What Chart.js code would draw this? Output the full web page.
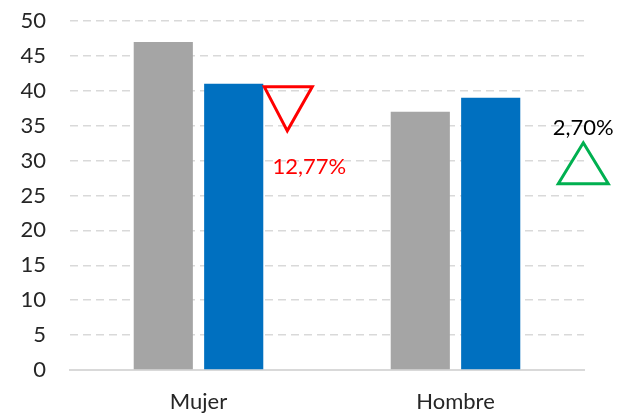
<!DOCTYPE html>
<html>
<head>
<meta charset="utf-8">
<script src="https://cdn.jsdelivr.net/npm/chart.js"></script>
<style>
  html, body { margin: 0; padding: 0; background: #fff; }
  #wrap { width: 617px; height: 414px; }
</style>
</head>
<body>
<div id="wrap"><canvas id="chart" width="617" height="414"></canvas></div>
<script>
// Data
const categories = ['Mujer', 'Hombre'];
const previousValues = [47, 37];
const currentValues = [41, 39];
const changeLabels = ['12,77%', '2,70%'];
const changeDirections = ['down', 'up'];
const yTicks = [0, 5, 10, 15, 20, 25, 30, 35, 40, 45, 50];

const FONT = 'Lato, "Open Sans", sans-serif';

// Draws the change triangles and percentages next to the blue bars
const changeMarkers = {
    id: 'changeMarkers',
    afterDraw(chart) {
        const ctx = chart.ctx;
        const meta = chart.getDatasetMeta(1);
        const yScale = chart.scales.y;
        ctx.save();
        ctx.lineWidth = 3;
        ctx.lineJoin = 'miter';
        ctx.font = '22px ' + FONT;
        ctx.textAlign = 'center';
        ctx.textBaseline = 'middle';
        meta.data.forEach((bar, i) => {
            const right = bar.x + bar.width / 2;
            if (changeDirections[i] === 'down') {
                const top = yScale.getPixelForValue(currentValues[i]) + 3;
                ctx.strokeStyle = '#FF0000';
                ctx.beginPath();
                ctx.moveTo(right + 1, top);
                ctx.lineTo(right + 49, top);
                ctx.lineTo(right + 24, top + 44);
                ctx.closePath();
                ctx.stroke();
                ctx.fillStyle = '#FF0000';
                ctx.fillText(changeLabels[i], right + 46, top + 80);
            } else {
                const apexY = yScale.getPixelForValue(currentValues[i]) + 45;
                const cx = right + 63;
                ctx.strokeStyle = '#00B050';
                ctx.beginPath();
                ctx.moveTo(cx, apexY);
                ctx.lineTo(cx + 25, apexY + 41);
                ctx.lineTo(cx - 25, apexY + 41);
                ctx.closePath();
                ctx.stroke();
                ctx.fillStyle = '#000000';
                ctx.fillText(changeLabels[i], cx, apexY - 15);
            }
        });
        ctx.restore();
    }
};

new Chart(document.getElementById('chart').getContext('2d'), {
    type: 'bar',
    data: {
        labels: categories,
        datasets: [
            {
                label: 'Anterior',
                data: previousValues,
                backgroundColor: '#A5A5A5',
                categoryPercentage: 0.548,
                barPercentage: 0.84
            },
            {
                label: 'Actual',
                data: currentValues,
                backgroundColor: '#0070C0',
                categoryPercentage: 0.548,
                barPercentage: 0.84
            }
        ]
    },
    options: {
        responsive: false,
        animation: false,
        devicePixelRatio: 1,
        layout: { padding: { top: 21, right: 33, left: 0, bottom: 0 } },
        plugins: {
            legend: { display: false },
            tooltip: { enabled: false }
        },
        scales: {
            x: {
                grid: { display: false },
                border: { display: true, color: '#D9D9D9', width: 2 },
                ticks: { color: '#262626', font: { family: FONT, size: 22 }, padding: 11 },
                afterFit(scale) { scale.height = 44; }
            },
            y: {
                min: 0,
                max: 50,
                afterBuildTicks(scale) { scale.ticks = yTicks.map(v => ({ value: v })); },
                grid: { color: '#D9D9D9', lineWidth: 1.5, drawTicks: false },
                border: { display: false, dash: [8, 5] },
                ticks: { color: '#262626', font: { family: FONT, size: 22 }, padding: 24 },
                afterFit(scale) {
                    scale.width = 70;
                    scale.paddingTop = 0;
                    scale.paddingBottom = 0;
                }
            }
        }
    },
    plugins: [changeMarkers]
});
</script>
</body>
</html>
